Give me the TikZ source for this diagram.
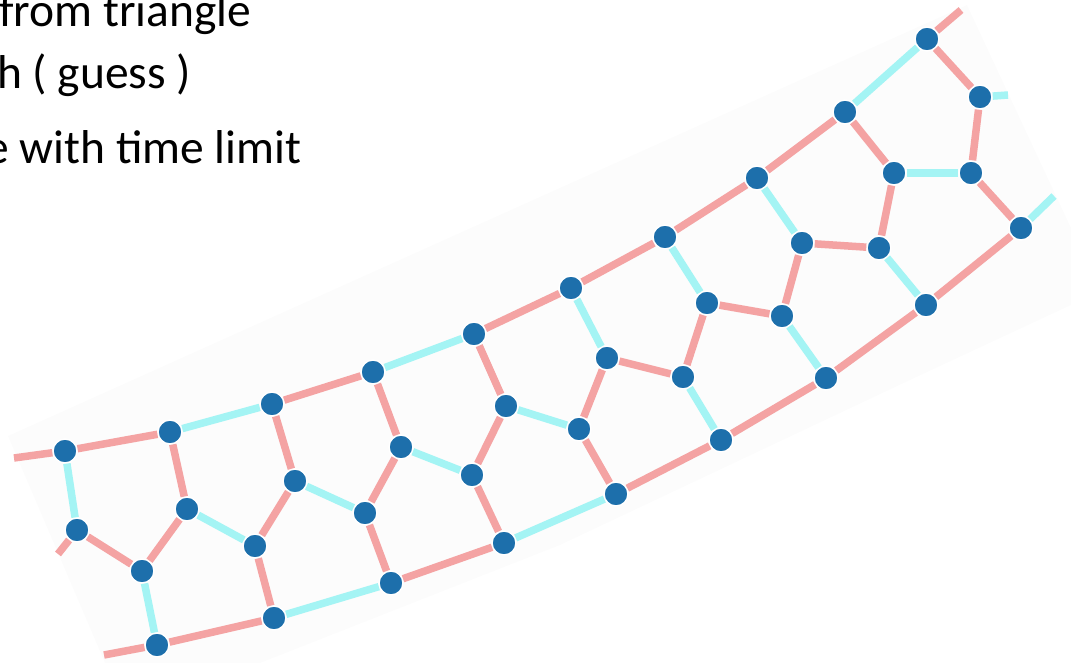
\documentclass[tikz,border=0pt]{standalone}
\usepackage{fontspec}
\setmainfont{Carlito}
\usepackage{xcolor}
\usepackage{tikz}
\definecolor{rosa}{HTML}{F4A3A3}
\definecolor{celeste}{HTML}{A4F4F4}
\definecolor{azul}{HTML}{1D6FAB}
\definecolor{papel}{HTML}{FCFCFC}
\tikzset{
  rojo/.style={draw=rosa,line width=7.5pt},
  cian/.style={draw=celeste,line width=7.5pt},
  pt/.style={circle,fill=azul,draw=white,line width=1.5pt,minimum size=24pt,inner sep=0pt},
  texto/.style={anchor=base west,inner sep=0pt,font=\fontsize{47.5}{57}\selectfont}
}
\begin{document}
\begin{tikzpicture}[x=1pt,y=-1pt]
\useasboundingbox (0,0) rectangle (1071,663);
\fill[papel] (8,436) -- (967,5) -- (1071,228) -- (1071,305) -- (910,380) -- (560,545) -- (260,663) -- (105,663) -- cycle;
\node[texto] (l1) at (-1,27) {from triangle};
\node[texto] (l2) at (-3,89) {h ( guess )};
\node[texto] (l3) at (-15,164) {e with time limit};
% vertices
\foreach \n/\x/\y in {t1/65/451,t2/170/432,t3/272/404,t4/373/372,t5/474/334,t6/571/288,t7/665/237,t8/757/178,t9/845/112,t10/927/39,
  d1/980/97,d2/894/173,d3/971/173,d4/1021/228,d5/879/248,d6/802/243,
  m1/77/530,m2/187/509,m3/142/571,m4/295/481,m5/255/546,m6/365/513,m7/401/447,m8/506/406,m9/472/475,m10/607/358,m11/579/429,m12/707/303,m13/683/377,m14/782/316,
  b1/157/645,b2/274/618,b3/391/583,b4/504/543,b5/616/494,b6/721/440,b7/826/378,b8/926/305}
  \node[pt] (\n) at (\x,\y) {};
% free ends
\foreach \n/\x/\y in {e1/14/458,e2/58/554,e3/104/655,e4/961/10,e5/1008/95,e6/1054/196}
  \coordinate (\n) at (\x,\y);
\foreach \a/\b in {t1/t2,t3/t4,t5/t6,t6/t7,t7/t8,t8/t9,t10/d1,d1/d3,t9/d2,d3/d4,d2/d5,d5/d6,b8/d4,d6/m14,m12/m14,b7/b8,b6/b7,
  m12/m13,m13/m10,m10/m11,m11/b5,b5/b6,t5/m8,m8/m9,m9/b4,t4/m7,m7/m6,m6/b3,b3/b4,t3/m4,m4/m5,m5/b2,t2/m2,m2/m3,b1/b2,m1/m3,
  t1/e1,m1/e2,b1/e3,t10/e4}
  \draw[rojo] (\a) -- (\b);
\foreach \a/\b in {t2/t3,t4/t5,t9/t10,d2/d3,d5/b8,t8/d6,m14/b7,t7/m12,m13/b6,t6/m10,m8/m11,b4/b5,m7/m9,m4/m6,b2/b3,m2/m5,m3/b1,t1/m1,
  d1/e5,d4/e6}
  \draw[cian] (\a) -- (\b);
\end{tikzpicture}
\end{document}
